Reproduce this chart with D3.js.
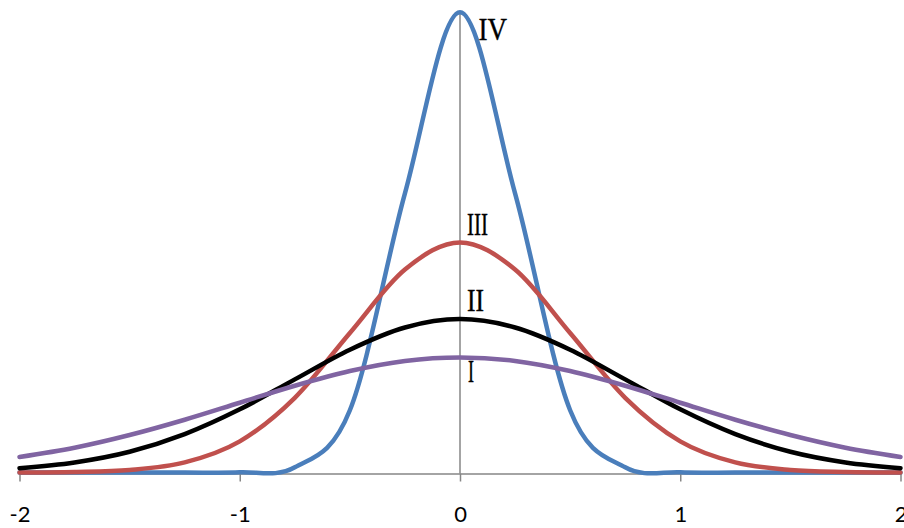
<!DOCTYPE html>
<html>
<head>
<meta charset="utf-8">
<script src="https://cdn.jsdelivr.net/npm/d3@7"></script>
<style>
  body { margin: 0; background: white; }
</style>
</head>
<body>
<div id="graph"></div>
<script>

// x positions shared by the four curves
const xValues = [-2, -1.75, -1.5, -1.25, -1, -0.75, -0.5, -0.25, 0, 0.25, 0.5, 0.75, 1, 1.25, 1.5, 1.75, 2];

// curve heights
const curveI   = [0.054, 0.086, 0.130, 0.183, 0.242, 0.301, 0.352, 0.387, 0.399, 0.387, 0.352, 0.301, 0.242, 0.183, 0.130, 0.086, 0.054];
const curveII  = [0.015, 0.035, 0.072, 0.133, 0.219, 0.323, 0.426, 0.503, 0.532, 0.503, 0.426, 0.323, 0.219, 0.133, 0.072, 0.035, 0.015];
const curveIII = [0.0003, 0.002, 0.009, 0.035, 0.108, 0.259, 0.484, 0.704, 0.798, 0.704, 0.484, 0.259, 0.108, 0.035, 0.009, 0.002, 0.0003];
const curveIV  = [0, 0, 0, 0, 0.0005, 0.018, 0.216, 0.968, 1.596, 0.968, 0.216, 0.018, 0.0005, 0, 0, 0, 0];

const seriesNames = ["I", "II", "III", "IV"];
const tickValues = [-2, -1, 0, 1, 2];
const tickLabels = ["-2", "-1", "0", "1", "2"];

let width = 904, height = 528;

let svg = d3.select("#graph").append("svg")
  .attr("width", width)
  .attr("height", height)
  .style("display", "block");

svg.append("rect")
  .attr("width", width)
  .attr("height", height)
  .attr("fill", "white");

// Scales
let x = d3.scaleLinear().domain([-2, 2]).range([19.5, 900.5]);
let y = d3.scaleLinear().domain([0, 1.6]).range([472.5, 11.2]);

const axisColor = "#868686";

// Vertical axis at x = 0 (line only)
svg.append("line")
  .attr("x1", x(0)).attr("x2", x(0))
  .attr("y1", y(0) + 1).attr("y2", y(1.6))
  .attr("stroke", axisColor)
  .attr("stroke-width", 1.5);

// Horizontal axis
let xAxis = svg.append("g")
  .attr("transform", "translate(0," + (y(0) + 1) + ")")
  .call(d3.axisBottom(x)
    .tickValues(tickValues)
    .tickSize(8)
    .tickSizeOuter(0)
    .tickFormat((d, i) => tickLabels[i]));

xAxis.select(".domain").attr("stroke", axisColor).attr("stroke-width", 1.5);
xAxis.selectAll(".tick line").attr("stroke", axisColor).attr("stroke-width", 1.5);
xAxis.selectAll(".tick text")
  .attr("y", 48)
  .attr("dy", 0)
  .attr("fill", "black")
  .style("font-family", "Lato, 'Liberation Sans', sans-serif")
  .style("font-size", "22px");

// Curves (drawn blue first, purple last)
let series = [
  { name: "IV",  values: curveIV,  color: "#4a7ebb" },
  { name: "III", values: curveIII, color: "#c0504d" },
  { name: "II",  values: curveII,  color: "#000000" },
  { name: "I",   values: curveI,   color: "#8064a2" }
];

let line = d3.line()
  .x((d, i) => x(xValues[i]))
  .y(d => y(d))
  .curve(d3.curveCatmullRom.alpha(0));

svg.append("g").attr("id", "curves")
  .selectAll("path")
  .data(series)
  .enter().append("path")
  .attr("d", d => line(d.values))
  .attr("fill", "none")
  .attr("stroke", d => d.color)
  .attr("stroke-width", 4.5)
  .attr("stroke-linejoin", "round")
  .attr("stroke-linecap", "round");

// Roman numeral labels next to each peak
let peaks = { "I": curveI[8], "II": curveII[8], "III": curveIII[8], "IV": curveIV[8] };
let labelPlace = {
  "I":   { dx: 8,    dy: 25,   w: 6 },
  "II":  { dx: 7,    dy: -8,   w: 17 },
  "III": { dx: 7,    dy: -7.5, w: 21 },
  "IV":  { dx: 18.5, dy: 28,   w: 28.5 }
};

svg.append("g").attr("id", "labels")
  .selectAll("text")
  .data(seriesNames)
  .enter().append("text")
  .attr("x", d => x(0) + labelPlace[d].dx)
  .attr("y", d => y(peaks[d]) + labelPlace[d].dy)
  .attr("textLength", d => labelPlace[d].w)
  .attr("lengthAdjust", "spacingAndGlyphs")
  .style("font-family", "'Liberation Serif', 'DejaVu Serif', serif")
  .style("font-size", "31px")
  .attr("fill", "black")
  .attr("stroke", "black")
  .attr("stroke-width", 0.4)
  .text(d => d);

</script>
</body>
</html>
